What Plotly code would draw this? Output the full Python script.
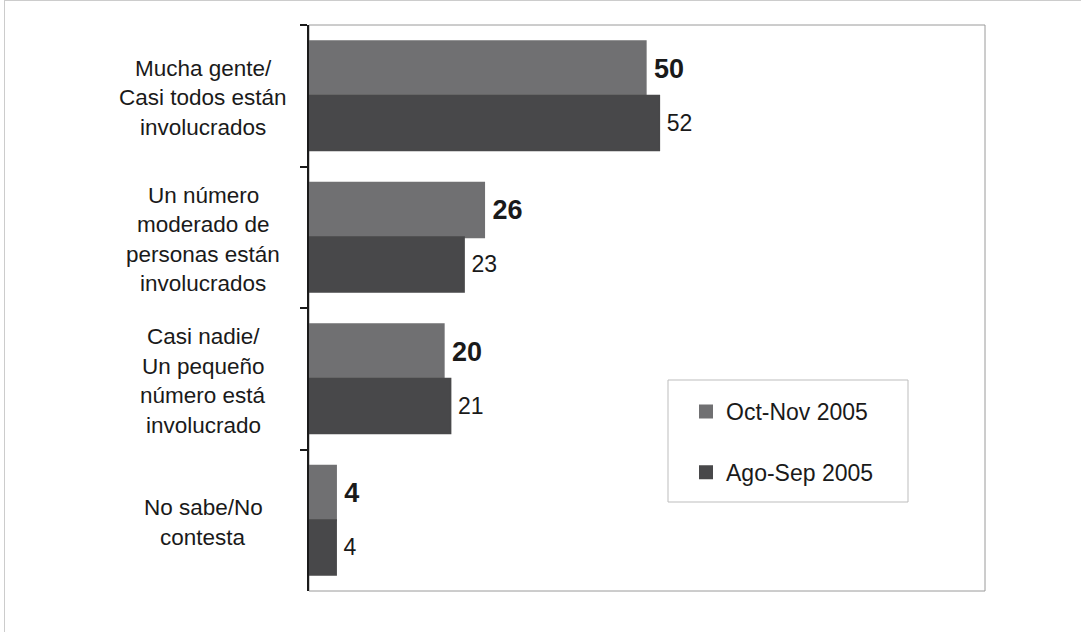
import plotly.graph_objects as go

categories = [
    "Mucha gente/\nCasi todos están\ninvolucrados",
    "Un número\nmoderado de\npersonas están\ninvolucrados",
    "Casi nadie/\nUn pequeño\nnúmero está\ninvolucrado",
    "No sabe/No\ncontesta",
]
series_names = ["Oct-Nov 2005", "Ago-Sep 2005"]
oct_nov = [50, 26, 20, 4]
ago_sep = [52, 23, 21, 4]

W, H = 1081, 632
L, R, T, B = 309, 985, 25, 591
pw, ph = R - L, B - T
FONT = "Liberation Sans, Arial, sans-serif"

def px_x(px):
    return (px - L) / pw

def px_y(py):
    return (B - py) / ph

fig = go.Figure()
fig.add_trace(go.Bar(
    y=categories, x=oct_nov, orientation="h", name=series_names[0],
    marker=dict(color="#707072", line=dict(width=2, color="#707072")),
    text=[f"{v}" for v in oct_nov], textposition="outside",
    texttemplate="\u2009%{text}",
    textfont=dict(family=FONT, size=27, color="#1a1a1a", weight="bold"),
    cliponaxis=False, legendgroup="a",
))
fig.add_trace(go.Bar(
    y=categories, x=ago_sep, orientation="h", name=series_names[1],
    marker=dict(color="#48484a", line=dict(width=2, color="#48484a")),
    text=[f"{v}" for v in ago_sep], textposition="outside",
    texttemplate="\u2009%{text}",
    textfont=dict(family=FONT, size=23, color="#1a1a1a"),
    cliponaxis=False, legendgroup="b",
))

annotations = []
for cat in categories:
    lines = cat.split("\n")
    n = len(lines)
    for i, line in enumerate(lines):
        annotations.append(dict(
            x=px_x(203), xref="paper", y=cat, yref="y",
            text=line, showarrow=False, xanchor="center", yanchor="middle",
            yshift=-(i - (n - 1) / 2) * 29.5 - 2,
            font=dict(family=FONT, size=22.5, color="#1a1a1a"),
        ))

shapes = [
    # plot frame (gray)
    dict(type="rect", xref="paper", yref="paper", x0=0, x1=1, y0=0, y1=1,
         line=dict(color="#9a9a9a", width=1), layer="below"),
    # legend box
    dict(type="rect", xref="paper", yref="paper",
         x0=px_x(668), x1=px_x(908), y0=px_y(502), y1=px_y(380),
         line=dict(color="#bdbdbd", width=1), fillcolor="rgba(0,0,0,0)"),
    # outer image border
    dict(type="line", xref="paper", yref="paper",
         x0=px_x(4.5), x1=px_x(4.5), y0=px_y(0), y1=px_y(632),
         line=dict(color="#cccccc", width=1)),
    dict(type="line", xref="paper", yref="paper",
         x0=px_x(4.5), x1=px_x(1081), y0=px_y(0.5), y1=px_y(0.5),
         line=dict(color="#cccccc", width=1)),
]

fig.update_layout(
    width=W, height=H,
    margin=dict(l=L, r=W - R, t=T, b=H - B, pad=0),
    paper_bgcolor="white", plot_bgcolor="white",
    barmode="group", bargap=0.23, bargroupgap=0,
    showlegend=True,
    legend=dict(
        x=px_x(686), y=px_y(390), xanchor="left", yanchor="top",
        bgcolor="rgba(0,0,0,0)", borderwidth=0,
        font=dict(family=FONT, size=23, color="#1a1a1a"),
        tracegroupgap=28, itemwidth=30, traceorder="grouped",
    ),
    xaxis=dict(range=[0, 100.4], showgrid=False, zeroline=False,
               showticklabels=False, ticks="", showline=False, fixedrange=True),
    yaxis=dict(autorange="reversed", showgrid=False, showticklabels=False,
               ticks="outside", ticklen=7, tickwidth=1.5, tickcolor="#1a1a1a",
               tickson="boundaries", showline=True, linecolor="#1a1a1a", linewidth=1.5,
               zeroline=False),
    annotations=annotations,
    shapes=shapes,
)

fig.write_html("out.html", config={"displayModeBar": False},
               post_script="document.body.style.margin='0';document.body.style.padding='0';")
